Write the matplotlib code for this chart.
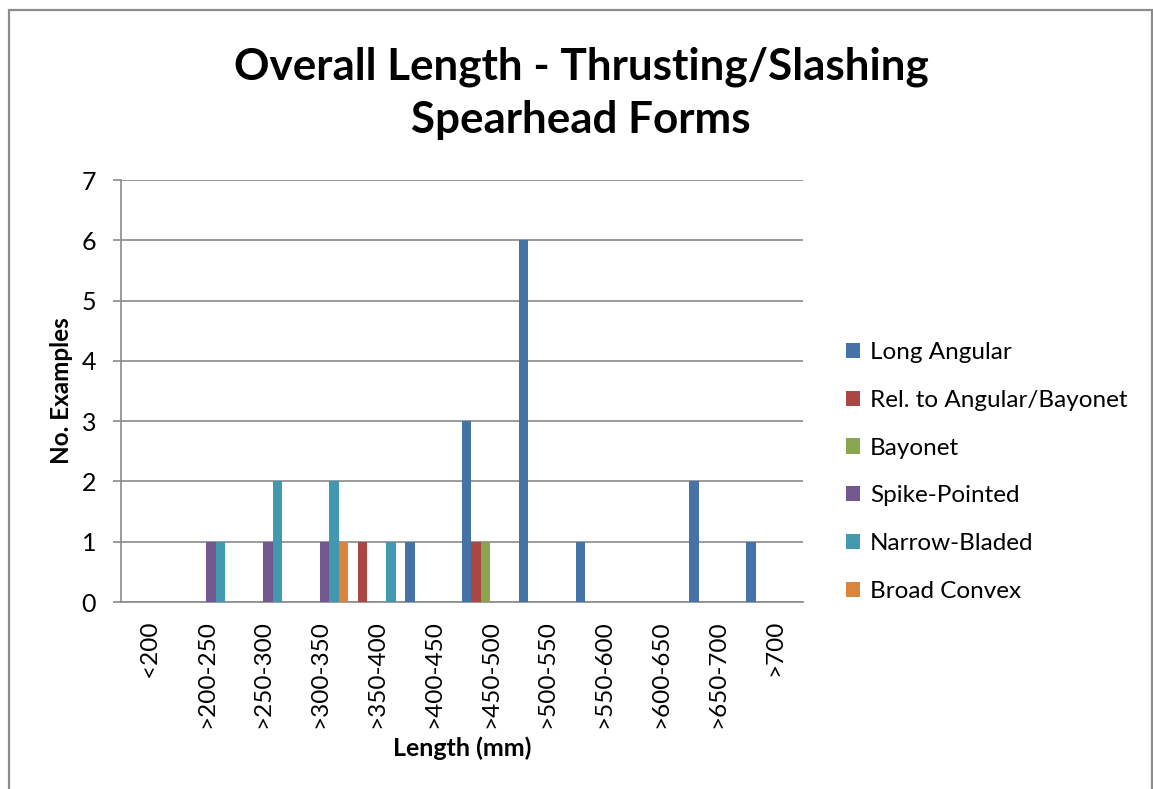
import matplotlib
matplotlib.use('Agg')
import matplotlib.pyplot as plt
from matplotlib.patches import Rectangle
import numpy as np

plt.rcParams['font.family'] = ['Lato', 'DejaVu Sans']

categories = ['<200', '>200-250', '>250-300', '>300-350', '>350-400', '>400-450',
              '>450-500', '>500-550', '>550-600', '>600-650', '>650-700', '>700']
series_names = ['Long Angular', 'Rel. to Angular/Bayonet', 'Bayonet',
                'Spike-Pointed', 'Narrow-Bladed', 'Broad Convex']
long_angular = [0, 0, 0, 0, 0, 1, 3, 6, 1, 0, 2, 1]
rel_angular_bayonet = [0, 0, 0, 0, 1, 0, 1, 0, 0, 0, 0, 0]
bayonet = [0, 0, 0, 0, 0, 0, 1, 0, 0, 0, 0, 0]
spike_pointed = [0, 1, 1, 1, 0, 0, 0, 0, 0, 0, 0, 0]
narrow_bladed = [0, 1, 2, 2, 1, 0, 0, 0, 0, 0, 0, 0]
broad_convex = [0, 0, 0, 1, 0, 0, 0, 0, 0, 0, 0, 0]
series_values = [long_angular, rel_angular_bayonet, bayonet,
                 spike_pointed, narrow_bladed, broad_convex]
colors = ['#4572A7', '#AA4643', '#89A54E', '#71588F', '#4198AF', '#DB843D']

grid_color = '#8a8a8a'

fig = plt.figure(figsize=(11.53, 7.89), dpi=100)
ax = fig.add_axes([121 / 1153, 1 - 602 / 789, (803 - 121) / 1153, (602 - 180) / 789])

x = np.arange(len(categories))
n = len(series_values)
w = 1.0 / n
for k, (name, vals, c) in enumerate(zip(series_names, series_values, colors)):
    ax.bar(x + (k - (n - 1) / 2) * w, vals, width=w, color=c, label=name,
           edgecolor='none', zorder=3)

ax.set_xlim(-0.5, len(categories) - 0.5)
ax.set_ylim(0, 7)
ax.set_yticks(range(8))
ax.set_xticks(x)
ax.set_xticklabels(categories, rotation=90, va='top')
ax.grid(axis='y', color=grid_color, linewidth=1.2, zorder=0)
ax.tick_params(axis='y', length=6, width=1.2, color=grid_color, pad=12, labelsize=18)
ax.tick_params(axis='x', length=0, pad=13, labelsize=17.5)
for s in ['top', 'right']:
    ax.spines[s].set_visible(False)
for s in ['left', 'bottom']:
    ax.spines[s].set_color(grid_color)
    ax.spines[s].set_linewidth(1.2)

ax.set_ylabel('No. Examples', fontsize=17.5, fontweight='bold', labelpad=6)
ax.set_xlabel('Length (mm)', fontsize=18, fontweight='bold', va='center')
ax.xaxis.set_label_coords(0.5, (602 - 748) / 422)

fig.text(0.504, 1 - 93 / 789, 'Overall Length - Thrusting/Slashing\nSpearhead Forms',
         ha='center', va='center', fontsize=31.7, fontweight='bold', linespacing=1.4)

ax.legend(loc='center left', bbox_to_anchor=(846 / 1153, 1 - 472 / 789),
          bbox_transform=fig.transFigure, frameon=False, fontsize=17.5,
          handlelength=0.58, handleheight=0.58, handletextpad=0.4,
          labelspacing=1.1, borderpad=0, borderaxespad=0)

fig.patches.append(Rectangle((9 / 1153, -0.05), (1152 - 9) / 1153, 1.05 - 10 / 789,
                             transform=fig.transFigure, fill=False,
                             edgecolor='#8c8c8c', linewidth=1.6))

fig.savefig('out.png', dpi=100)
